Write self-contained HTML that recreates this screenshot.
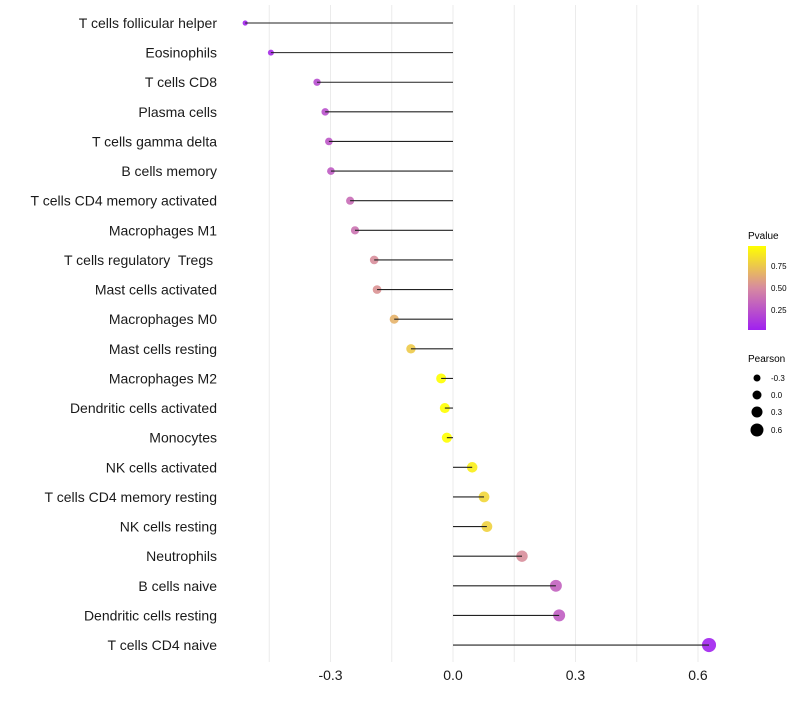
<!DOCTYPE html>
<html><head><meta charset="utf-8">
<style>
body{margin:0;background:#fff;font-family:"Liberation Sans",sans-serif;}
svg text{font-family:"Liberation Sans",sans-serif;white-space:pre;}
</style></head>
<body>
<svg id="chart" width="800" height="700" xmlns="http://www.w3.org/2000/svg">
<defs>
<linearGradient id="pg" x1="0" y1="1" x2="0" y2="0">
<stop offset="0" stop-color="#a020f0"/>
<stop offset="0.5" stop-color="#d78aa0"/>
<stop offset="1" stop-color="#ffff00"/>
</linearGradient>
</defs>
<g id="grid"></g>
<g id="points"></g>
<g id="stems"></g>
<g id="labels"></g>
<g id="legend">
<text x="748" y="239" font-size="10">Pvalue</text>
<rect x="748" y="246" width="18" height="84" fill="url(#pg)"/>
<text x="771" y="269" font-size="8">0.75</text>
<text x="771" y="291" font-size="8">0.50</text>
<text x="771" y="313" font-size="8">0.25</text>
<text x="748" y="362" font-size="10">Pearson</text>
<circle cx="757" cy="378" r="3.5" fill="#000"/>
<circle cx="757" cy="395" r="4.5" fill="#000"/>
<circle cx="757" cy="412" r="5.5" fill="#000"/>
<circle cx="757" cy="430" r="6.5" fill="#000"/>
<text x="771" y="381" font-size="8">-0.3</text>
<text x="771" y="398" font-size="8">0.0</text>
<text x="771" y="415" font-size="8">0.3</text>
<text x="771" y="433" font-size="8">0.6</text>
</g>
</svg>
<script>
const categories=["T cells follicular helper","Eosinophils","T cells CD8","Plasma cells","T cells gamma delta","B cells memory","T cells CD4 memory activated","Macrophages M1","T cells regulatory  Tregs ","Mast cells activated","Macrophages M0","Mast cells resting","Macrophages M2","Dendritic cells activated","Monocytes","NK cells activated","T cells CD4 memory resting","NK cells resting","Neutrophils","B cells naive","Dendritic cells resting","T cells CD4 naive"];
const pearson=[-0.509,-0.446,-0.333,-0.313,-0.304,-0.299,-0.252,-0.240,-0.193,-0.186,-0.144,-0.103,-0.029,-0.020,-0.015,0.047,0.076,0.083,0.169,0.252,0.260,0.627];
const pvalue=[0.02,0.05,0.2,0.22,0.25,0.27,0.35,0.38,0.5,0.52,0.65,0.75,0.98,0.99,0.99,0.9,0.8,0.78,0.5,0.3,0.28,0.01];
const xTicks=[-0.3,0.0,0.3,0.6];
const xTickLabels=["-0.3","0.0","0.3","0.6"];
const NS="http://www.w3.org/2000/svg";
const x=v=>453+v*408.3;
const y=i=>23+i*29.62;
const rad=v=>Math.sqrt(Math.max(3,26+38*v));
function lerp(a,b,t){return Math.round(a+(b-a)*t);}
function col(p){const s=[[160,32,240],[215,138,160],[255,255,0]];let t=Math.max(0,Math.min(1,p/0.97));let a,b,u;if(t<0.5){a=s[0];b=s[1];u=t/0.5;}else{a=s[1];b=s[2];u=(t-0.5)/0.5;}return `rgb(${lerp(a[0],b[0],u)},${lerp(a[1],b[1],u)},${lerp(a[2],b[2],u)})`;}
function mk(tag,attrs,parent){const e=document.createElementNS(NS,tag);for(const k in attrs)e.setAttribute(k,attrs[k]);parent.appendChild(e);return e;}
const grid=document.getElementById('grid'),points=document.getElementById('points'),stems=document.getElementById('stems'),labels=document.getElementById('labels');
for(let v=-0.45;v<=0.66;v+=0.15){const g=mk('line',{x1:x(v),x2:x(v),y1:5,y2:662,stroke:'#ebebeb','stroke-width':1},grid);

}
categories.forEach((c,i)=>{
const t=mk('text',{x:217,y:y(i)+5,'font-size':14,'text-anchor':'end',fill:'#1a1a1a'},labels);t.textContent=c;


const p=mk('circle',{cx:x(pearson[i]),cy:y(i),r:rad(pearson[i]),fill:col(pvalue[i]),'fill-opacity':0.9},points);


const l=mk('line',{x1:x(0),x2:x(pearson[i]),y1:y(i),y2:y(i),stroke:'#222','stroke-width':1.1},stems);


});
xTicks.forEach((v,i)=>{const t=mk('text',{x:x(v),y:680,'font-size':14,'text-anchor':'middle',fill:'#1a1a1a'},labels);t.textContent=xTickLabels[i];

});
</script>
</body></html>
